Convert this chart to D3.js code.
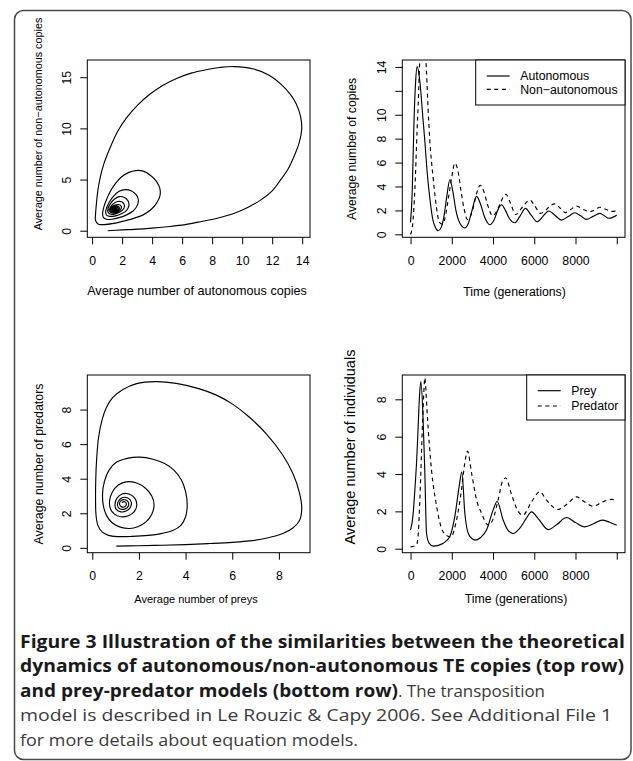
<!DOCTYPE html>
<html>
<head>
<meta charset="utf-8">
<script src="https://cdn.jsdelivr.net/npm/d3@7"></script>
<style>
  body { margin: 0; background: #fff; }
  svg { display: block; }
</style>
</head>
<body>
<script>
// ---- TE copies, time series
const autoTime = [0, 80, 160, 240, 320, 451, 600, 693, 800, 936, 1097, 1200, 1338, 1480, 1620, 1760, 1905, 2050, 2200, 2400, 2633, 2800, 2980, 3200, 3400, 3600, 3845, 4050, 4250, 4412, 4600, 4800, 5057, 5300, 5576, 5850, 6139, 6420, 6705, 7000, 7321, 7650, 7966, 8250, 8533, 8850, 9178, 9400, 9614, 10000];
const autoCopies = [1.0, 3.5, 9.0, 12.6, 14.03, 12.8, 9.7, 7.8, 5.3, 3.0, 1.1, 0.6, 0.3, 0.55, 1.5, 3.2, 4.56, 3.6, 2.0, 0.9, 0.53, 0.9, 2.0, 3.17, 2.5, 1.4, 0.8, 1.2, 2.1, 2.47, 2.0, 1.3, 0.97, 1.5, 2.17, 1.6, 1.05, 1.5, 1.95, 1.6, 1.19, 1.5, 1.8, 1.55, 1.25, 1.5, 1.75, 1.55, 1.34, 1.6];
const nonTime = [0, 100, 210, 320, 370, 450, 600, 742, 850, 936, 1097, 1260, 1400, 1550, 1700, 1850, 2000, 2148, 2300, 2450, 2600, 2750, 2900, 3050, 3200, 3380, 3550, 3750, 3980, 4200, 4400, 4620, 4850, 5100, 5350, 5550, 5785, 6000, 6300, 6550, 6750, 6995, 7250, 7500, 7750, 8048, 8350, 8700, 8950, 9178, 9450, 9750, 10000];
const nonCopies = [0, 0.8, 3.8, 8.8, 10.8, 14.56, 16.0, 14.56, 10.5, 7.8, 4.7, 2.2, 1.0, 0.85, 1.6, 3.2, 4.8, 5.96, 5.3, 3.6, 2.1, 1.25, 1.5, 2.3, 3.4, 4.1, 3.6, 2.4, 1.55, 2.0, 2.8, 3.35, 2.6, 1.65, 2.1, 2.55, 2.87, 2.45, 1.75, 2.0, 2.35, 2.55, 2.2, 1.82, 2.05, 2.37, 2.1, 1.9, 2.05, 2.26, 2.1, 1.92, 1.95];

// ---- TE copies, phase plane (top-left panel)
const phaseAuto = [1.04, 2.0, 2.78, 4.0, 5.0, 6.2, 7.22, 8.4, 9.44, 10.4, 11.22, 12.0, 12.55, 13.05, 13.44, 13.8, 13.97, 13.9, 13.6, 13.22, 12.6, 11.8, 10.77, 9.44, 8.5, 7.67, 6.6, 5.67, 4.7, 3.89, 3.05, 2.33, 1.7, 1.22, 0.8, 0.55, 0.38, 0.29, 0.23, 0.23, 0.42, 0.8, 1.44, 2.2, 2.78, 3.4, 3.89, 4.3, 4.52, 4.52, 4.3, 3.9, 3.4, 2.9, 2.45, 1.95, 1.55, 1.2, 0.95, 0.78, 0.7, 0.75, 0.95, 1.3, 1.8, 2.3, 2.75, 3.02, 3.08, 2.95, 2.6, 2.2, 1.8, 1.45, 1.15, 0.97, 0.9, 0.98, 1.2, 1.55, 1.95, 2.3, 2.45, 2.4, 2.15, 1.8, 1.5, 1.22, 1.07, 1.05, 1.2, 1.5, 1.85, 2.1, 2.15, 2.0, 1.7, 1.42, 1.22, 1.13, 1.22, 1.45, 1.75, 1.93, 1.93, 1.75, 1.5, 1.3, 1.22, 1.3, 1.5, 1.72, 1.82, 1.76, 1.56, 1.38, 1.3, 1.36, 1.52, 1.68, 1.74, 1.66, 1.5, 1.39, 1.37, 1.46, 1.6, 1.66, 1.6, 1.48, 1.42, 1.44, 1.54, 1.6, 1.56, 1.47, 1.44, 1.49, 1.55, 1.53, 1.48, 1.47, 1.5];
const phaseNon = [0.0, 0.08, 0.13, 0.25, 0.39, 0.6, 0.88, 1.25, 1.69, 2.3, 2.99, 3.9, 4.94, 6.0, 7.2, 8.6, 9.97, 11.1, 12.4, 13.3, 14.3, 15.2, 15.8, 16.04, 15.95, 15.75, 15.4, 14.9, 14.2, 13.38, 12.3, 11.1, 9.7, 8.18, 6.6, 5.26, 3.9, 2.67, 1.6, 1.0, 0.64, 0.6, 0.72, 0.98, 1.21, 1.55, 2.02, 2.7, 3.4, 4.1, 4.8, 5.4, 5.82, 5.88, 5.7, 5.25, 4.6, 3.8, 3.0, 2.3, 1.7, 1.3, 1.12, 1.12, 1.28, 1.55, 1.95, 2.5, 3.0, 3.5, 3.9, 4.02, 3.85, 3.4, 2.8, 2.25, 1.8, 1.5, 1.4, 1.45, 1.65, 2.0, 2.45, 2.9, 3.25, 3.33, 3.1, 2.65, 2.2, 1.85, 1.63, 1.62, 1.82, 2.15, 2.5, 2.8, 2.86, 2.65, 2.3, 2.0, 1.8, 1.74, 1.88, 2.15, 2.42, 2.56, 2.5, 2.28, 2.03, 1.87, 1.84, 1.97, 2.18, 2.37, 2.42, 2.27, 2.07, 1.93, 1.9, 2.0, 2.17, 2.31, 2.32, 2.18, 2.04, 1.96, 1.99, 2.12, 2.24, 2.24, 2.13, 2.03, 2.0, 2.08, 2.18, 2.19, 2.1, 2.04, 2.07, 2.14, 2.14, 2.09, 2.1];

// ---- prey-predator, time series (bottom-right panel)
const preyTime = [0, 120, 210, 300, 370, 440, 500, 600, 693, 775, 900, 1097, 1350, 1582, 1905, 2148, 2358, 2487, 2633, 2795, 3000, 3166, 3400, 3685, 4006, 4200, 4490, 4750, 4976, 5300, 5600, 5866, 6200, 6673, 7100, 7564, 8000, 8451, 8900, 9290, 9650, 10000];
const preyCount = [1.0, 1.8, 3.16, 4.8, 6.58, 8.3, 8.95, 7.2, 4.06, 0.83, 0.3, 0.14, 0.18, 0.29, 0.65, 1.73, 3.34, 4.1, 1.9, 0.83, 0.52, 0.46, 0.6, 1.0, 2.08, 2.53, 1.54, 0.95, 0.81, 1.1, 1.6, 1.97, 1.6, 1.02, 1.3, 1.67, 1.4, 1.17, 1.35, 1.53, 1.42, 1.26];
const predTime = [0, 290, 380, 451, 582, 640, 693, 750, 806, 1018, 1260, 1500, 1700, 1950, 2230, 2472, 2633, 2763, 2958, 3200, 3442, 3765, 4006, 4248, 4490, 4620, 4897, 5220, 5450, 5866, 6270, 6594, 7158, 7600, 8048, 8450, 8855, 9300, 9745, 10000];
const predCount = [0.1, 0.2, 0.9, 2.6, 6.76, 8.3, 9.15, 8.4, 7.3, 4.2, 2.3, 1.1, 0.75, 0.63, 1.54, 3.16, 4.6, 5.23, 4.06, 2.62, 1.9, 1.27, 1.6, 2.62, 3.7, 3.79, 2.9, 2.0, 1.8, 2.51, 3.05, 2.6, 2.1, 2.4, 2.78, 2.5, 2.28, 2.5, 2.64, 2.6];

// ---- prey-predator, phase plane (bottom-left panel)
const phasePrey = [1.03, 2.0, 3.0, 4.0, 5.0, 6.0, 6.74, 7.5, 8.17, 8.6, 8.89, 8.98, 8.88, 8.6, 8.15, 7.46, 6.7, 6.03, 5.3, 4.6, 3.6, 2.7, 1.9, 1.3, 0.88, 0.6, 0.42, 0.27, 0.19, 0.15, 0.14, 0.16, 0.24, 0.42, 0.7, 1.1, 1.7, 2.4, 3.0, 3.45, 3.8, 4.0, 4.07, 4.0, 3.81, 3.5, 3.1, 2.6, 2.03, 1.5, 1.03, 0.72, 0.52, 0.44, 0.48, 0.62, 0.85, 1.2, 1.6, 1.95, 2.3, 2.55, 2.65, 2.55, 2.28, 1.9, 1.45, 1.1, 0.85, 0.74, 0.78, 0.95, 1.22, 1.55, 1.8, 1.91, 1.82, 1.57, 1.28, 1.06, 0.97, 1.03, 1.22, 1.47, 1.64, 1.67, 1.52, 1.28, 1.12, 1.08, 1.18, 1.38, 1.54, 1.54, 1.4, 1.22, 1.17, 1.26, 1.41, 1.46, 1.38, 1.27];
const phasePred = [0.1, 0.12, 0.15, 0.19, 0.25, 0.32, 0.4, 0.57, 0.83, 1.15, 1.6, 2.3, 3.2, 4.3, 5.4, 6.6, 7.6, 8.3, 8.85, 9.2, 9.52, 9.62, 9.5, 9.15, 8.7, 8.1, 7.4, 6.4, 5.2, 4.0, 2.8, 1.9, 1.3, 0.92, 0.72, 0.65, 0.66, 0.72, 0.84, 1.0, 1.3, 1.8, 2.5, 3.25, 3.95, 4.5, 4.88, 5.13, 5.25, 5.18, 4.95, 4.5, 3.85, 3.1, 2.4, 1.85, 1.45, 1.2, 1.12, 1.22, 1.5, 1.95, 2.5, 3.0, 3.45, 3.75, 3.82, 3.62, 3.2, 2.7, 2.25, 1.95, 1.8, 1.86, 2.1, 2.5, 2.88, 3.12, 3.12, 2.88, 2.5, 2.22, 2.08, 2.14, 2.36, 2.65, 2.88, 2.9, 2.7, 2.45, 2.26, 2.24, 2.4, 2.65, 2.78, 2.72, 2.52, 2.37, 2.4, 2.56, 2.67, 2.62];

// ---- axis ticks and labels
const phaseTeXTicks = [0, 2, 4, 6, 8, 10, 12, 14];
const phaseTeYTicks = [0, 5, 10, 15];
const timeTicks = [0, 2000, 4000, 6000, 8000, 10000];
const timeTickLabels = ["0", "2000", "4000", "6000", "8000", ""];
const copiesTicks = [0, 2, 4, 6, 8, 10, 12, 14];
const copiesTickLabels = ["0", "2", "4", "6", "8", "10", "", "14"];
const ppTicks = [0, 2, 4, 6, 8];

const width = 633;
const height = 761;
const axisFont = "'Liberation Sans', Arial, Helvetica, sans-serif";

const svg = d3.select("body").append("svg")
  .attr("width", width)
  .attr("height", height);

// rounded figure frame
svg.append("rect")
  .attr("x", 14.5).attr("y", 10.5)
  .attr("width", 616.5).attr("height", 749)
  .attr("rx", 9).attr("ry", 9)
  .style("fill", "none")
  .style("stroke", "#4a4a4a")
  .style("stroke-width", 1.5);

// R-like range: data extent widened by 4% each side
function rRange(values) {
  const [lo, hi] = d3.extent(values);
  const d = (hi - lo) * 0.04;
  return [lo - d, hi + d];
}

let clipCount = 0;

function drawPanel(p) {
  const g = svg.append("g");
  const x = d3.scaleLinear().domain(p.xDomain).range([p.box.x0, p.box.x1]);
  const y = d3.scaleLinear().domain(p.yDomain).range([p.box.y1, p.box.y0]);

  const clipId = "clip" + (clipCount++);
  g.append("clipPath").attr("id", clipId)
    .append("rect")
    .attr("x", p.box.x0).attr("y", p.box.y0)
    .attr("width", p.box.x1 - p.box.x0)
    .attr("height", p.box.y1 - p.box.y0);

  p.series.forEach((s) => {
    const line = d3.line()
      .x((d) => x(d[0]))
      .y((d) => y(d[1]))
      .curve(s.curve);
    g.append("path")
      .datum(d3.zip(s.x, s.y))
      .attr("clip-path", `url(#${clipId})`)
      .attr("d", line)
      .style("fill", "none")
      .style("stroke", "#000")
      .style("stroke-width", 1.15)
      .style("stroke-dasharray", s.dashed ? "4,3.6" : null);
  });

  // plot box
  g.append("rect")
    .attr("x", p.box.x0).attr("y", p.box.y0)
    .attr("width", p.box.x1 - p.box.x0)
    .attr("height", p.box.y1 - p.box.y0)
    .style("fill", "none")
    .style("stroke", "#000")
    .style("stroke-width", 1);

  // x axis
  const xa = g.append("g")
    .attr("transform", `translate(0,${p.box.y1})`)
    .call(d3.axisBottom(x)
      .tickValues(p.xTicks)
      .tickSize(7)
      .tickSizeOuter(0)
      .tickFormat((d, i) => p.xLabels[i]));
  xa.select(".domain").remove();
  xa.selectAll("text")
    .attr("y", 23).attr("dy", "0.35em")
    .style("font-family", axisFont)
    .style("font-size", "12.3px")
    .style("fill", "#000");

  // y axis, labels parallel to the axis as in R
  const ya = g.append("g")
    .attr("transform", `translate(${p.box.x0},0)`)
    .call(d3.axisLeft(y)
      .tickValues(p.yTicks)
      .tickSize(7)
      .tickSizeOuter(0)
      .tickFormat((d, i) => p.yLabels[i]));
  ya.select(".domain").remove();
  ya.selectAll("text")
    .attr("x", 0).attr("y", -21).attr("dy", "0.35em")
    .attr("transform", "rotate(-90)")
    .attr("text-anchor", "middle")
    .style("font-family", axisFont)
    .style("font-size", "12.3px")
    .style("fill", "#000");

  // axis titles
  g.append("text")
    .attr("x", p.xTitle.x).attr("y", p.xTitle.y)
    .attr("dy", "0.35em")
    .attr("text-anchor", "middle")
    .style("font-family", axisFont)
    .style("font-size", p.xTitle.size + "px")
    .text(p.xTitle.text);
  g.append("text")
    .attr("transform", `translate(${p.yTitle.x},${p.yTitle.y}) rotate(-90)`)
    .attr("dy", "0.35em")
    .attr("text-anchor", "middle")
    .style("font-family", axisFont)
    .style("font-size", p.yTitle.size + "px")
    .text(p.yTitle.text);

  // legend
  if (p.legend) {
    const L = p.legend;
    g.append("rect")
      .attr("x", L.x0).attr("y", p.box.y0)
      .attr("width", p.box.x1 - L.x0)
      .attr("height", L.h)
      .style("fill", "#fff")
      .style("stroke", "#000")
      .style("stroke-width", 1);
    L.names.forEach((name, i) => {
      const ly = p.box.y0 + L.rowY[i];
      g.append("line")
        .attr("x1", L.x0 + 11).attr("x2", L.x0 + 34)
        .attr("y1", ly).attr("y2", ly)
        .style("stroke", "#000")
        .style("stroke-width", 1.15)
        .style("stroke-dasharray", i === 1 ? "4,3.6" : null);
      g.append("text")
        .attr("x", L.x0 + 44.5).attr("y", ly)
        .attr("dy", "0.35em")
        .style("font-family", axisFont)
        .style("font-size", "12.3px")
        .text(name);
    });
  }
}

const smooth = d3.curveCatmullRom.alpha(0.5);

drawPanel({
  box: { x0: 87.3, x1: 310, y0: 60, y1: 237.3 },
  xDomain: rRange(phaseAuto),
  yDomain: rRange(phaseNon),
  xTicks: phaseTeXTicks, xLabels: phaseTeXTicks.map(String),
  yTicks: phaseTeYTicks, yLabels: phaseTeYTicks.map(String),
  series: [{ x: phaseAuto, y: phaseNon, curve: smooth }],
  xTitle: { text: "Average number of autonomous copies", x: 197, y: 290.5, size: 12.6 },
  yTitle: { text: "Average number of non\u2212autonomous copies", x: 38.3, y: 124, size: 10.8 }
});

drawPanel({
  box: { x0: 402.3, x1: 625, y0: 60, y1: 237.3 },
  xDomain: rRange(autoTime),
  yDomain: rRange(autoCopies),
  xTicks: timeTicks, xLabels: timeTickLabels,
  yTicks: copiesTicks, yLabels: copiesTickLabels,
  series: [
    { x: autoTime, y: autoCopies, curve: d3.curveMonotoneX },
    { x: nonTime, y: nonCopies, curve: d3.curveMonotoneX, dashed: true }
  ],
  xTitle: { text: "Time (generations)", x: 514.5, y: 291.5, size: 12.3 },
  yTitle: { text: "Average number of copies", x: 351.7, y: 149, size: 12.2 },
  legend: { x0: 475.7, h: 45, names: ["Autonomous", "Non\u2212autonomous"], rowY: [16, 29.3] }
});

drawPanel({
  box: { x0: 87.3, x1: 310, y0: 375, y1: 552.7 },
  xDomain: rRange(phasePrey),
  yDomain: rRange(phasePred),
  xTicks: ppTicks, xLabels: ppTicks.map(String),
  yTicks: ppTicks, yLabels: ppTicks.map(String),
  series: [{ x: phasePrey, y: phasePred, curve: smooth }],
  xTitle: { text: "Average number of preys", x: 196, y: 599, size: 11 },
  yTitle: { text: "Average number of predators", x: 38.3, y: 464, size: 12.4 }
});

drawPanel({
  box: { x0: 402.3, x1: 625, y0: 375, y1: 552.7 },
  xDomain: rRange(preyTime),
  yDomain: rRange(preyCount),
  xTicks: timeTicks, xLabels: timeTickLabels,
  yTicks: ppTicks, yLabels: ppTicks.map(String),
  series: [
    { x: preyTime, y: preyCount, curve: d3.curveMonotoneX },
    { x: predTime, y: predCount, curve: d3.curveMonotoneX, dashed: true }
  ],
  xTitle: { text: "Time (generations)", x: 516, y: 599, size: 12.3 },
  yTitle: { text: "Average number of individuals", x: 350, y: 447, size: 14.5 },
  legend: { x0: 526.7, h: 45, names: ["Prey", "Predator"], rowY: [15.7, 31] }
});

// ---- caption
const captionFont = "'Open Sans', 'Noto Sans', sans-serif";
const captionLines = [
  { y: 647.5, parts: [{ t: "Figure 3 Illustration of the similarities between the theoretical", bold: true, x: 20, w: 605 }] },
  { y: 672, parts: [{ t: "dynamics of autonomous/non-autonomous TE copies (top row)", bold: true, x: 20, w: 604 }] },
  { y: 696.5, parts: [
    { t: "and prey-predator models (bottom row)", bold: true, x: 20, w: 378 },
    { t: ". The transposition", bold: false, x: 398, w: 147 }
  ] },
  { y: 721, parts: [{ t: "model is described in Le Rouzic & Capy 2006. See Additional File 1", bold: false, x: 20, w: 592 }] },
  { y: 745.5, parts: [{ t: "for more details about equation models.", bold: false, x: 20, w: 338 }] }
];

captionLines.forEach((line) => {
  line.parts.forEach((part) => {
    svg.append("text")
      .attr("x", part.x).attr("y", line.y)
      .attr("textLength", part.w)
      .attr("lengthAdjust", "spacingAndGlyphs")
      .style("font-family", captionFont)
      .style("font-size", "17px")
      .style("font-weight", part.bold ? 700 : 400)
      .style("fill", part.bold ? "#1a1a1a" : "#3a3a3a")
      .text(part.t);
  });
});
</script>
</body>
</html>
